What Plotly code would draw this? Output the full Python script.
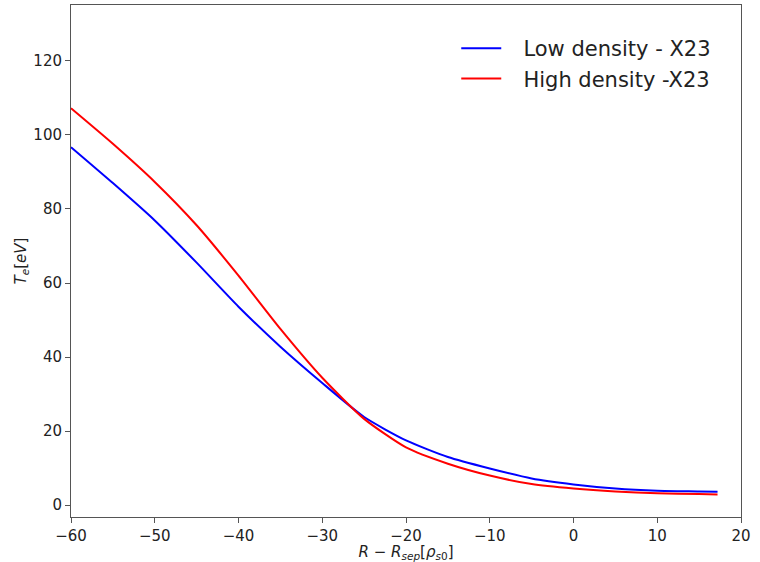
import plotly.graph_objects as go

x_vals = [-60, -55, -50, -45, -40, -35, -30, -25, -20, -15, -10, -5, 0, 5, 10, 15, 17.2]
low_density = [96.7, 87.0, 76.9, 65.5, 53.6, 42.8, 33.0, 23.8, 17.5, 13.0, 9.9, 7.2, 5.6, 4.5, 3.9, 3.7, 3.6]
high_density = [107.2, 97.6, 87.3, 75.6, 62.0, 47.6, 34.4, 23.3, 15.6, 11.2, 8.0, 5.7, 4.5, 3.7, 3.2, 3.0, 2.9]

x_ticks = [-60, -50, -40, -30, -20, -10, 0, 10, 20]
y_ticks = [0, 20, 40, 60, 80, 100, 120]

fig = go.Figure()
fig.add_trace(go.Scatter(x=x_vals, y=low_density, mode="lines", name="\u2002\u00a0Low density - X23",
                         line=dict(color="#0000ff", width=2, shape="spline", smoothing=0.6)))
fig.add_trace(go.Scatter(x=x_vals, y=high_density, mode="lines", name="\u2002\u00a0High density -X23",
                         line=dict(color="#ff0000", width=2, shape="spline", smoothing=0.6)))

axis_common = dict(showgrid=False, zeroline=False, showline=True, linecolor="#555555", linewidth=1,
                   mirror=True, ticks="outside", ticklen=5, tickcolor="#555555", tickwidth=1,
                   automargin=False,
                   tickfont=dict(family="DejaVu Sans", size=15, color="#222222"))

fig.update_layout(
    width=760, height=562,
    margin=dict(l=71, r=19, t=5, b=45),
    paper_bgcolor="white", plot_bgcolor="white",
    font=dict(family="DejaVu Sans", color="#222222"),
    xaxis=dict(range=[-60, 20], tickvals=x_ticks,
               title=dict(text="<i>R</i> − <i>R</i><sub><i>sep</i></sub>[<i>ρ</i><sub><i>s</i>0</sub>]",
                          font=dict(size=15), standoff=10), **axis_common),
    yaxis=dict(range=[-3.2, 135.1], tickvals=y_ticks,
               title=dict(text="<i>T</i><sub><i>e</i></sub>[<i>eV</i>]", font=dict(size=15), standoff=3),
               **axis_common),
    legend=dict(x=0.575, y=0.955, xanchor="left", yanchor="top", bgcolor="rgba(255,255,255,0)",
                borderwidth=0, font=dict(size=21, color="#222222"), itemwidth=40),
    showlegend=True,
)

fig.write_html("out.html")
